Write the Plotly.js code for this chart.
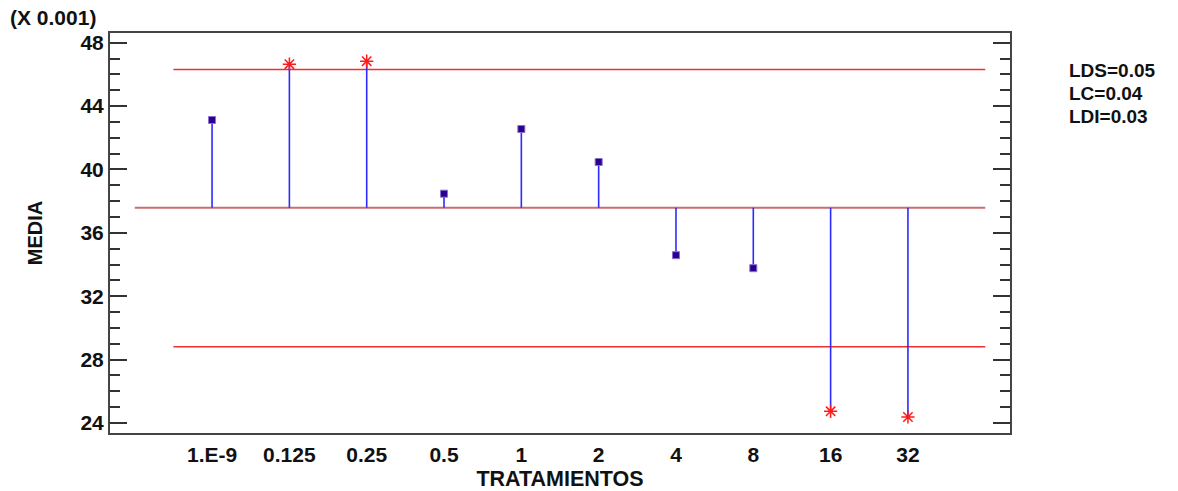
<!DOCTYPE html>
<html>
<head>
<meta charset="utf-8">
<script src="https://cdn.plot.ly/plotly-3.0.1.min.js"></script>
<style>
  html, body { margin: 0; padding: 0; background: #fff; }
  #chart { width: 1178px; height: 491px; }
</style>
</head>
<body>
<div id="chart"></div>
<script>
// Treatment labels along the x axis
const tratamientos = ['1.E-9', '0.125', '0.25', '0.5', '1', '2', '4', '8', '16', '32'];
// Mean of each treatment (x 0.001)
const medias = [43.12, 46.64, 46.83, 38.47, 42.55, 40.47, 34.59, 33.77, 24.74, 24.38];
// Decision limits (x 0.001)
const lc = 37.58;   // LC = 0.04
const lds = 46.30;  // LDS = 0.05
const ldi = 28.82;  // LDI = 0.03
const limitLabels = ['LDS=0.05', 'LC=0.04', 'LDI=0.03'];
const yTicks = [24, 28, 32, 36, 40, 44, 48];

const pos = tratamientos.map((_, i) => i + 1);
const FONT = 'Liberation Sans, Arial, sans-serif';
const TEXT = '#111';

// Vertical stems from the centre line to each mean
const stemX = [], stemY = [];
pos.forEach((p, i) => { stemX.push(p, p, null); stemY.push(lc, medias[i], null); });

const outside = medias.map(v => v > lds || v < ldi);
const inX = pos.filter((_, i) => !outside[i]);
const inY = medias.filter((_, i) => !outside[i]);
const outX = pos.filter((_, i) => outside[i]);
const outY = medias.filter((_, i) => outside[i]);

const traces = [
  { x: [0, pos.length + 1], y: [lc, lc], mode: 'lines', hoverinfo: 'skip',
    line: { color: '#c86e6e', width: 2 } },
  { x: [0.5, pos.length + 1], y: [lds, lds], mode: 'lines', hoverinfo: 'skip',
    line: { color: '#f03030', width: 1.5 } },
  { x: [0.5, pos.length + 1], y: [ldi, ldi], mode: 'lines', hoverinfo: 'skip',
    line: { color: '#f03030', width: 1.5 } },
  { x: stemX, y: stemY, mode: 'lines', line: { color: '#2b2bff', width: 1.6 } },
  { x: inX, y: inY, mode: 'markers',
    marker: { symbol: 'square', size: 7, color: '#2a0090',
              line: { color: '#8a70d0', width: 1 } } },
  { x: outX, y: outY, mode: 'markers',
    marker: { symbol: 'asterisk-open', size: 11, color: '#ff1a1a',
              line: { color: '#ff1a1a', width: 1.5 } } }
];

const annotations = [
  { text: '(X 0.001)', xref: 'paper', yref: 'paper', x: -0.113, y: 1.0375,
    xanchor: 'left', yanchor: 'middle', showarrow: false,
    font: { family: FONT, size: 21, color: TEXT, weight: 'bold' } }
];
limitLabels.forEach((t, i) => {
  annotations.push({ text: t, xref: 'paper', yref: 'paper',
    x: 1.063, y: 1 - (37 + i * 23.5) / 400, xanchor: 'left', yanchor: 'middle',
    showarrow: false, font: { family: FONT, size: 19, color: TEXT, weight: 'bold' } });
});

const layout = {
  width: 1178, height: 491,
  margin: { l: 110, r: 168, t: 33, b: 58 },
  paper_bgcolor: '#fff', plot_bgcolor: '#fff',
  showlegend: false,
  xaxis: {
    range: [-0.32, pos.length + 1.32],
    tickmode: 'array', tickvals: pos, ticktext: tratamientos,
    ticks: '', showgrid: false, zeroline: false,
    showline: true, linecolor: '#444', linewidth: 2, mirror: true,
    tickfont: { family: FONT, size: 21, color: TEXT, weight: 'bold' },
    ticklabelstandoff: 2,
    title: { text: 'TRATAMIENTOS', standoff: 6,
             font: { family: FONT, size: 21.5, color: TEXT, weight: 'bold' } }
  },
  yaxis: {
    range: [23.37, 48.61],
    tickmode: 'array', tickvals: yTicks,
    ticks: 'inside', ticklen: 17, tickwidth: 2, tickcolor: '#333',
    minor: { dtick: 1, tick0: 0, ticks: 'inside', ticklen: 10, tickwidth: 2, tickcolor: '#333' },
    showgrid: false, zeroline: false,
    showline: true, linecolor: '#444', linewidth: 2, mirror: 'ticks',
    tickfont: { family: FONT, size: 21, color: TEXT, weight: 'bold' },
    ticklabelstandoff: 0,
    title: { text: 'MEDIA', standoff: 32,
             font: { family: FONT, size: 20, color: TEXT, weight: 'bold' } }
  },
  annotations: annotations
};

Plotly.newPlot('chart', traces, layout, { displayModeBar: false, staticPlot: true });
</script>
</body>
</html>
